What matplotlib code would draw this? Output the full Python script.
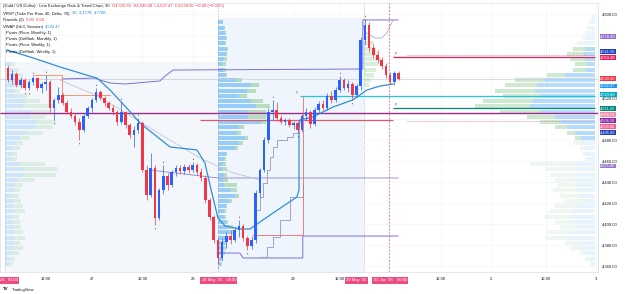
import numpy as np
import matplotlib.pyplot as plt
from matplotlib.colors import to_rgba
from matplotlib.transforms import blended_transform_factory

plt.rcParams['font.family'] = ['Liberation Sans', 'DejaVu Sans']

# ── Candles: XAUUSD 1h bars, 26 May 03:00 → 01 Jun 02:00 ────
opens = [4549.0, 4537.6, 4543.3, 4532.8, 4537.6, 4530.0, 4535.7, 4539.5, 4530.0, 4533.8,
         4535.7, 4510.9, 4518.6, 4523.3, 4515.7, 4507.1, 4503.3, 4497.6, 4490.0, 4503.3,
         4510.9, 4518.6, 4526.2, 4520.5, 4515.7, 4510.9, 4507.1, 4497.6, 4507.1, 4494.8,
         4485.2, 4490.0, 4496.7, 4451.9, 4428.1, 4453.8, 4406.2, 4432.8, 4446.2, 4437.6,
         4450.0, 4453.8, 4451.0, 4454.8, 4451.9, 4456.7, 4450.0, 4444.3, 4423.3, 4407.1,
         4385.2, 4368.1, 4383.3, 4389.0, 4385.2, 4394.8, 4398.6, 4387.1, 4379.5, 4385.2,
         4430.0, 4451.9, 4480.5, 4507.1, 4509.0, 4501.4, 4497.6, 4499.5, 4494.8, 4496.7,
         4490.0, 4503.3, 4507.1, 4495.7, 4509.0, 4514.8, 4510.9, 4522.4, 4518.6, 4528.1,
         4537.6, 4530.0, 4533.8, 4523.3, 4531.9, 4575.7, 4590.0, 4568.1, 4561.4, 4556.7,
         4551.0, 4542.4, 4535.7, 4544.3]
highs = [4551.9, 4547.1, 4545.2, 4540.5, 4539.5, 4537.6, 4541.4, 4540.5, 4535.7, 4542.4,
         4537.6, 4520.5, 4530.9, 4525.2, 4518.6, 4510.9, 4506.2, 4501.4, 4505.2, 4512.8,
         4520.5, 4530.0, 4528.1, 4522.4, 4517.6, 4513.8, 4509.0, 4516.7, 4508.1, 4496.7,
         4493.8, 4501.4, 4498.6, 4456.7, 4468.1, 4456.7, 4434.8, 4456.7, 4449.0, 4451.9,
         4456.7, 4456.7, 4457.6, 4457.6, 4459.5, 4458.6, 4453.8, 4447.1, 4425.2, 4409.0,
         4387.1, 4387.1, 4392.8, 4394.8, 4397.6, 4404.3, 4400.5, 4389.0, 4389.0, 4432.8,
         4453.8, 4483.3, 4510.9, 4518.6, 4516.7, 4504.3, 4501.4, 4501.4, 4498.6, 4498.6,
         4505.2, 4510.9, 4509.0, 4511.9, 4517.6, 4518.6, 4525.2, 4527.1, 4530.9, 4541.4,
         4539.5, 4537.6, 4535.7, 4533.8, 4578.6, 4595.7, 4592.9, 4571.9, 4566.2, 4559.5,
         4553.8, 4545.2, 4546.2, 4546.2]
lows = [4535.7, 4533.8, 4530.9, 4530.0, 4528.1, 4528.1, 4532.8, 4528.1, 4525.2, 4528.1,
        4507.1, 4499.5, 4515.7, 4513.8, 4505.2, 4501.4, 4494.8, 4480.5, 4488.1, 4501.4,
        4507.1, 4516.7, 4518.6, 4512.8, 4509.0, 4504.3, 4494.8, 4495.7, 4491.9, 4482.4,
        4473.8, 4487.1, 4450.0, 4423.3, 4426.2, 4399.5, 4404.3, 4429.0, 4432.8, 4435.7,
        4446.2, 4448.1, 4448.1, 4449.0, 4450.0, 4447.1, 4441.4, 4420.5, 4404.3, 4382.4,
        4362.4, 4366.2, 4377.6, 4381.4, 4383.3, 4388.1, 4384.3, 4375.7, 4376.7, 4382.4,
        4426.2, 4450.0, 4477.6, 4499.5, 4498.6, 4495.7, 4494.8, 4492.8, 4490.9, 4487.1,
        4488.1, 4499.5, 4491.9, 4493.8, 4506.2, 4509.0, 4509.0, 4515.7, 4516.7, 4526.2,
        4528.1, 4526.2, 4518.6, 4521.4, 4528.1, 4570.9, 4564.3, 4558.6, 4553.8, 4548.1,
        4539.5, 4533.8, 4532.8, 4537.5]
closes = [4537.6, 4543.3, 4532.8, 4537.6, 4530.0, 4535.7, 4539.5, 4530.0, 4533.8, 4535.7,
          4510.9, 4518.6, 4523.3, 4515.7, 4507.1, 4503.3, 4497.6, 4490.0, 4503.3, 4510.9,
          4518.6, 4526.2, 4520.5, 4515.7, 4510.9, 4507.1, 4497.6, 4507.1, 4494.8, 4485.2,
          4490.0, 4496.7, 4451.9, 4428.1, 4453.8, 4406.2, 4432.8, 4446.2, 4437.6, 4450.0,
          4453.8, 4451.0, 4454.8, 4451.9, 4456.7, 4450.0, 4444.3, 4423.3, 4407.1, 4385.2,
          4368.1, 4383.3, 4389.0, 4385.2, 4394.8, 4398.6, 4387.1, 4379.5, 4385.2, 4430.0,
          4451.9, 4480.5, 4507.1, 4509.0, 4501.4, 4497.6, 4499.5, 4494.8, 4496.7, 4490.0,
          4503.3, 4507.1, 4495.7, 4509.0, 4514.8, 4510.9, 4522.4, 4518.6, 4528.1, 4537.6,
          4530.0, 4533.8, 4523.3, 4531.9, 4575.7, 4590.0, 4568.1, 4561.4, 4556.7, 4551.0,
          4542.4, 4535.7, 4544.3, 4539.0]

# ── VWAP (session) line: bar index / price ──────────────────
vwap_t = [-0.2, 6.0, 12.4, 19.5, 21.2, 24.3, 29.8, 31.4, 38.6, 45.0, 46.9, 48.1, 50.0,
          51.7, 55.2, 57.6, 63.1, 68.8, 69.3, 69.3, 69.5, 72.6, 77.4, 82.1, 85.5, 88.6, 91.7]
vwap_p = [4566.2, 4558.6, 4550.0, 4541.4, 4539.5, 4528.1, 4504.3, 4496.7, 4473.8, 4471.0,
          4458.6, 4437.6, 4406.2, 4398.6, 4395.7, 4395.7, 4410.9, 4426.2, 4432.8, 4490.0,
          4499.5, 4502.4, 4511.9, 4518.6, 4528.1, 4531.9, 4533.8]

# ── Pivot / range lines ──────────────────────────────────────
upper_t = [12.9, 20.7, 21.9, 24.3, 27.9, 36.2, 37.4, 39.3, 84.5, 84.5, 92.9]
upper_p = [4538.6, 4539.5, 4537.6, 4534.8, 4533.8, 4536.7, 4541.4, 4547.1, 4548.1, 4594.8, 4594.8]
inner_t = [84.5, 85.0, 86.2, 87.4, 89.0, 90.2, 90.9, 91.7]
inner_p = [4590.0, 4583.3, 4580.5, 4577.6, 4577.6, 4582.4, 4588.1, 4594.8]
lower_t = [49.8, 55.2, 56.0, 70.2, 70.2, 92.9]
lower_p = [4372.8, 4372.8, 4368.1, 4368.1, 4389.0, 4389.0]
mid_t = [33.8, 50.0, 92.9]
mid_p = [4451.9, 4444.3, 4444.3]
trail1_t = [59.3, 60.0, 60.7, 61.7, 62.4, 63.1, 64.0, 66.4, 67.9, 69.0]
trail1_p = [4413.8, 4426.2, 4439.5, 4451.9, 4464.3, 4473.8, 4480.5, 4483.3, 4487.1, 4490.0]
trail2_t = [60.0, 61.7, 63.1, 64.8, 67.1, 70.2]
trail2_p = [4369.0, 4378.6, 4388.1, 4404.3, 4426.2, 4439.5]
band_t = [12.4, 21.9, 33.8, 45.7, 52.9, 60.0]
band_p = [4537.6, 4521.4, 4491.9, 4463.3, 4450.0, 4442.4]
box_t = [5.95, 12.9, 12.9, 24.3]
box_p = [4542.4, 4542.4, 4523.3, 4523.3]
redv_t = [58.3, 70.2, 70.2]
redv_p = [4390.0, 4390.0, 4521.4]

# level, start bar, end bar
piv_magenta = (4506.2, -2, 141)
piv_red = (4499.5, 45.7, 91.7)
piv_teal1 = (4522.4, 69.5, 139.8)
piv_teal2 = (4510.9, 91.7, 139.8)
piv_pink = (4559.5, 91.7, 139.8)
dotted_levels = [4561.4, 4498.6]
last_price = 4539.0

# ── Volume profiles (rows of 5 points) ──────────────────────
vrvp_rows = np.arange(4597.5, 4360, -5)
vrvp_up = [3, 4, 5, 7, 8, 10, 10, 12, 10, 8, 9, 30, 50, 58, 60, 55, 62, 65, 55, 40, 35, 28,
           20, 14, 15, 11, 9, 8, 20, 20, 22, 20, 18, 20, 15, 14, 20, 22, 25, 20, 18, 25,
           28, 18, 15, 10, 6, 3]
vrvp_dn = [1, 2, 3, 3, 4, 8, 12, 16, 15, 12, 13, 18, 30, 32, 40, 37, 50, 55, 40, 28, 20, 12,
           8, 6, 7, 4, 3, 2, 45, 30, 23, 20, 20, 22, 20, 16, 20, 23, 25, 20, 17, 23,
           22, 12, 10, 5, 4, 2]

left_rows = np.arange(4552.5, 4360, -5)
left_up = [6, 8, 10, 9, 12, 9, 14, 20, 18, 28, 25, 32, 30, 22, 15, 10, 8, 7, 6, 15, 20, 18,
           12, 10, 8, 7, 8, 8, 10, 7, 8, 8, 9, 10, 8, 9, 7, 5, 4]
left_dn = [4, 6, 8, 7, 8, 6, 8, 15, 30, 17, 15, 18, 18, 16, 10, 8, 7, 5, 6, 25, 32, 32,
           18, 8, 7, 7, 8, 10, 10, 7, 7, 8, 9, 10, 7, 9, 7, 5, 4]

mid_rows = np.arange(4592.5, 4360, -5)
mid_up = [5, 6, 7, 8, 7, 9, 8, 6, 4, 5, 8, 20, 35, 30, 22, 35, 40, 30, 32, 45, 22, 20, 28,
          22, 18, 8, 6, 5, 4, 6, 5, 6, 14, 18, 12, 8, 6, 6, 8, 12, 14, 10, 7, 6, 5, 4, 3]
mid_dn = [0, 1, 1, 1, 1, 2, 2, 3, 4, 3, 2, 5, 8, 10, 8, 12, 15, 20, 18, 5, 5, 4, 4,
          4, 3, 2, 2, 3, 6, 4, 6, 14, 6, 4, 3, 2, 2, 2, 3, 4, 4, 3, 2, 2, 2, 1, 1]

fri_rows = np.arange(4577.5, 4530, -5)
fri_dn = [4, 8, 10, 12, 14, 12, 10, 8, 6, 4]

# ── Axis text ───────────────────────────────────────────────
price_ticks = [4360, 4380, 4400, 4420, 4440, 4460, 4480, 4520, 4600]
time_pos = [9, 20, 32, 44, 68, 79, 103, 115, 128, 140]
time_lbl = ['12:00', '27', '12:00', '28', '29', '12:00', '12:00', '2', '12:00', '3']
time_marks = [(-1.9, "26   03:00"), (50.2, "28 May '26    06:00"),
              (82.9, "29 May '26"), (91.0, "01 Jun '26    00:00")]
price_tags = [(4578.6, '4,578.90', '#9575cd'), (4565.2, '4,561.50', '#1e3fbf'),
              (4558.8, '4,559.48', '#e91e63'), (4538.6, '4,539.00', '#f23645'),
              (4531.9, '4,532.47', '#2196f3'), (4524.2, '4,523.88', '#00acc1'),
              (4510.9, '4,511.25', '#00897b'), (4505.0, '4,506.75', '#f48fb1'),
              (4499.1, '4,506.50', '#8e24aa'), (4493.2, '4,500.00', '#f06292'),
              (4487.3, '4,495.00', '#1e3fbf'), (4455.7, '4,455.80', '#9575cd')]

header = [
    [("(Gold / US Dollar) · Line Exchange Rate & Trend Chart, 30  ", '#131722'),
     ("O4,539.55  H4,546.08  L4,537.47  C4,539.00  −0.49 (−0.02%)", '#f23645')],
    [("VRVP (Ticks Per Row, 40, Delta, 70)  ", '#131722'), ("3K  ", '#26a69a'),
     ("3.177K  ", '#2962ff'), ("4.778K", '#2196f3')],
    [("Fractals (2)  ", '#131722'), ("0.00  0.00", '#f23645')],
    [("VWAP (hlc3, Session)  ", '#131722'), ("4,532.47", '#2196f3')],
    [("Pivots (Floor, Monthly, 1)", '#131722')],
    [("Pivots (DeMark, Monthly, 1)", '#131722')],
    [("Pivots (Floor, Weekly, 1)", '#131722')],
    [("Pivots (DeMark, Weekly, 1)", '#131722')],
]

UP, DN = '#2962ff', '#f23645'
BLUE, GREEN = '#42a5f5', '#81c784'
W, H = 625, 294


def draw_profile(ax, rows, up, dn, anchor, span, sign, alphas):
    up = np.asarray(up, float)
    dn = np.asarray(dn, float)
    k = span / (up + dn).max()
    cu = [to_rgba(BLUE, a) for a in alphas]
    cd = [to_rgba(GREEN, a) for a in alphas]
    ax.barh(rows, sign * up * k, left=anchor, height=3.6, color=cu, lw=0, zorder=2)
    ax.barh(rows, sign * dn * k, left=anchor + sign * up * k, height=3.6, color=cd, lw=0, zorder=2)


def rich_line(fig, x, y, pieces, size, weight='normal'):
    r = fig.canvas.get_renderer()
    for txt, col in pieces:
        t = fig.text(x / W, 1 - y / H, txt, color=col, fontsize=size, va='center',
                     ha='left', fontweight=weight)
        x += t.get_window_extent(r).width


fig = plt.figure(figsize=(6.25, 2.94), dpi=100)
ax = fig.add_axes([0, 22 / H, 598 / W, 269 / H])
ax.set_xlim(-1.9, 140.5)
ax.set_ylim(4354.75, 4610.95)

# background tint of the session ranges
ax.fill_between([-0.7, 50], 4354, 4555, color='#f3f7fc', lw=0, zorder=0)
ax.fill_between([50, 84.8], 4354, 4597, color='#eff5fc', lw=0, zorder=0)
ax.axvline(-0.7, color='#d6dae3', lw=0.5, zorder=1)

# volume profiles
va = [0.38 if 4480 < r < 4570 else 0.12 for r in vrvp_rows]
draw_profile(ax, vrvp_rows, vrvp_up, vrvp_dn, 139.8, 28.5, -1, va)
draw_profile(ax, left_rows, left_up, left_dn, -0.7, 12.5, 1, [0.2] * len(left_rows))
draw_profile(ax, mid_rows, mid_up, mid_dn, 50, 12.5, 1, [0.5] * len(mid_rows))
draw_profile(ax, fri_rows, [0] * len(fri_rows), fri_dn, 84.8, 4.0, 1, [0.3] * len(fri_rows))

# session / cursor markers
ax.axvline(50, color='#b2b5be', lw=0.5, ls=(0, (2, 2)), zorder=1)
ax.axvline(84.8, color='#9598a1', lw=0.5, ls=(0, (1, 1.5)), zorder=1)
ax.axvline(90.7, color='#ec4d80', lw=0.5, ls=(0, (3, 2)), zorder=8)

# horizontal pivots
ax.hlines(last_price, -2, 141, color='#c9ccd3', lw=0.5, zorder=3)
for (lvl, a, b), col, lw in [(piv_magenta, '#9c2a8a', 1.0), (piv_red, '#e0566b', 0.9),
                              (piv_teal1, '#26c6da', 0.9), (piv_teal2, '#00897b', 0.9),
                              (piv_pink, '#e91e63', 0.9)]:
    ax.hlines(lvl, a, b, color=col, lw=lw, zorder=4)
for lvl in dotted_levels:
    ax.hlines(lvl, 95, 139.8, color='#d08a9c', lw=0.6, ls=(0, (1, 1)), zorder=4)
for t, p, col in [(68.6, piv_teal1[0], '#26a69a'), (92.0, piv_pink[0], '#e91e63'),
                  (92.0, piv_teal2[0], '#00897b')]:
    ax.text(t, p + 1.2, 'P', fontsize=2.4, color=col, ha='left', va='bottom', zorder=9)

# range / pivot step lines
ax.plot(upper_t, upper_p, color='#7e6fd6', lw=0.7, zorder=4)
ax.plot(inner_t, inner_p, color='#a59ad8', lw=0.5, zorder=4)
ax.plot(lower_t, lower_p, color='#7e6fd6', lw=0.7, zorder=4)
ax.plot(mid_t, mid_p, color='#8a80d8', lw=0.6, zorder=4)
ax.plot(trail1_t, trail1_p, color='#9a92c8', lw=0.6, drawstyle='steps-post', zorder=4)
ax.plot(trail2_t, trail2_p, color='#9a92c8', lw=0.6, drawstyle='steps-post', zorder=4)
ax.plot(band_t, band_p, color='#c3c6cc', lw=0.6, zorder=4)
ax.plot(box_t, box_p, color='#ef8a5a', lw=0.6, zorder=4)
ax.plot(redv_t, redv_p, color='#ef6a6a', lw=0.6, zorder=4)

# VWAP
ax.plot(vwap_t, vwap_p, color='#2f8fd8', lw=0.9, zorder=5)

# candles
o, h, l, c = (np.array(a) for a in (opens, highs, lows, closes))
x = np.arange(len(c))
col = np.where(c >= o, UP, DN)
ax.vlines(x, l, h, colors=col, lw=0.5, zorder=6)
ax.bar(x, np.maximum(np.abs(c - o), 0.4), bottom=np.minimum(o, c), width=0.62,
       color=col, lw=0, zorder=7)

# fractal marks (2 bars each side)
for i in range(2, len(c) - 2):
    if h[i] == max(h[i - 2:i + 3]):
        ax.plot(i, h[i] + 2.5, marker='v', ms=1.0, color='#434651', mew=0, zorder=8)
    if l[i] == min(l[i - 2:i + 3]):
        ax.plot(i, l[i] - 2.5, marker='^', ms=1.0, color='#434651', mew=0, zorder=8)

# axes styling
ax.yaxis.tick_right()
ax.set_yticks(price_ticks)
ax.set_yticklabels([f'{v:,.2f}' for v in price_ticks])
ax.set_yticks(np.arange(4360, 4601, 20), minor=True)
ax.set_xticks(time_pos)
ax.set_xticklabels(time_lbl)
ax.tick_params(axis='y', which='both', length=0, pad=3, labelsize=3.0, labelcolor='#131722')
ax.tick_params(axis='x', length=0, pad=3.5, labelsize=3.0, labelcolor='#131722')
ax.grid(which='both', color='#f3f4f7', lw=0.5, zorder=0)
for s in ax.spines.values():
    s.set_color('#e0e3eb')
    s.set_linewidth(0.6)

ytr = blended_transform_factory(ax.transAxes, ax.transData)
for p, txt, colr in price_tags:
    ax.text(1.004, p, txt, transform=ytr, fontsize=2.9, color='white', va='center',
            ha='left', clip_on=False, zorder=20,
            bbox=dict(boxstyle='square,pad=0.12', fc=colr, ec='none'))

xtr = blended_transform_factory(ax.transData, ax.transAxes)
for t, txt in time_marks:
    ax.text(t, -0.03, txt, transform=xtr, fontsize=3.0, color='white', va='center',
            ha='left' if t < 0 else 'center', clip_on=False, zorder=20,
            bbox=dict(boxstyle='square,pad=0.35', fc='#ec4d80', ec='none'))

# legend block top-left
for k, (pieces, yy) in enumerate(zip(header, [6, 13.5, 20.3, 26.7, 33, 39.2, 45.3, 51.5])):
    rich_line(fig, 3 if k < 4 else 6, yy, pieces, 3.0)

rich_line(fig, 3, 289.5, [("TV", '#131722')], 3.2, 'bold')
rich_line(fig, 12, 289.5, [("TradingView", '#131722')], 3.0)

fig.savefig('out.png', dpi=100)
